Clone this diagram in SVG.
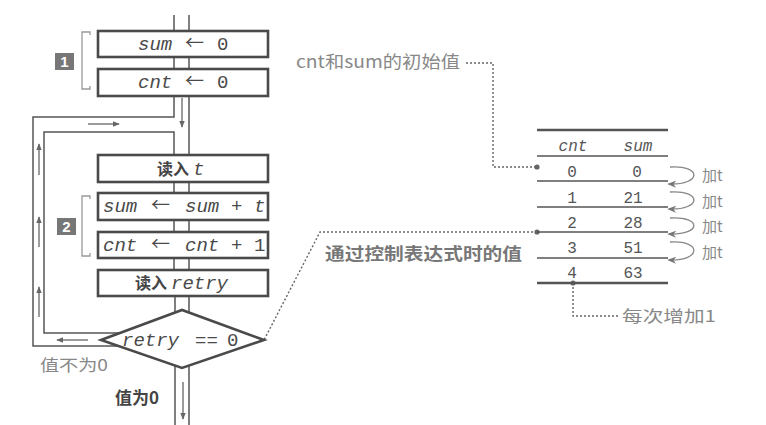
<svg xmlns="http://www.w3.org/2000/svg" width="766" height="425" viewBox="0 0 766 425">
<defs>
<marker id="ah" viewBox="0 0 10 10" refX="9" refY="5" markerWidth="7" markerHeight="7" orient="auto" markerUnits="userSpaceOnUse"><path d="M0,1 L10,5 L0,9 z" fill="#666"/></marker>
<marker id="ah2" viewBox="0 0 10 10" refX="8" refY="5" markerWidth="9" markerHeight="9" orient="auto" markerUnits="userSpaceOnUse"><path d="M0,1 L10,5 L0,9 L3,5 z" fill="#777"/></marker>
</defs>
<style>
.box{fill:#fff;stroke:#4a4a4a;stroke-width:2.6}
.flow{fill:none;stroke:#555;stroke-width:1.5}
.arr{fill:none;stroke:#666;stroke-width:1.3;marker-end:url(#ah)}
.dot{fill:none;stroke:#666;stroke-width:1.4;stroke-dasharray:2 2}
.mono{font-family:"Liberation Mono",monospace;font-size:19px;fill:#4a4a4a}
.la{font-family:"Noto Sans CJK SC",sans-serif;font-size:19px;fill:#4a4a4a}
.it{font-style:italic}
.cjkb{font-family:"Noto Sans CJK SC",sans-serif;font-weight:bold;fill:#444}
.gray{font-family:"Noto Sans CJK SC",sans-serif;fill:#888}
.brk{fill:none;stroke:#999;stroke-width:1.3}
.tl{stroke:#555;stroke-width:1.5}
.tlb{stroke:#555;stroke-width:2.5}
.tbl{font-family:"Liberation Mono",monospace;font-size:16px;fill:#555}
.curve{fill:none;stroke:#888;stroke-width:1.3;marker-end:url(#ah2)}
</style>
<g id="connectors">
<path class="flow" d="M174,15 V30 M189,15 V30 M174,57 V69 M189,57 V69"/>
<path class="flow" d="M189,96 V155 M174,96 V117 H33 V346 H120"/>
<path class="flow" d="M174,155 V132 H44 V333 H120"/>
<path class="flow" d="M174,182 V193 M189,182 V193 M174,220 V232 M189,220 V232 M174,258 V270 M189,258 V270 M175,296 V312 M189,296 V312"/>
<path class="flow" d="M175,366 V425 M189,366 V425"/>
<line class="arr" x1="182" y1="98" x2="182" y2="127"/>
<line class="arr" x1="88" y1="124" x2="119" y2="124"/>
<line class="arr" x1="39" y1="175" x2="39" y2="144"/>
<line class="arr" x1="39" y1="247" x2="39" y2="217"/>
<line class="arr" x1="39" y1="317" x2="39" y2="287"/>
<line class="arr" x1="88" y1="340" x2="57" y2="340"/>
<line class="arr" x1="183" y1="382" x2="183" y2="419"/>
<path class="dot" d="M466,63 H493 V167 H537"/>
<path class="dot" d="M537,232 H320 L264,340"/>
<path class="dot" d="M573,283 V316 H618"/>
<circle cx="537" cy="167" r="2.6" fill="#666"/>
<circle cx="537" cy="232" r="2.6" fill="#666"/>
<circle cx="573" cy="283" r="2.6" fill="#666"/>
<path class="curve" d="M670,167 C702,165 702,185 669,184"/>
<path class="curve" d="M670,192 C702,190 702,210 669,209"/>
<path class="curve" d="M670,218 C702,216 702,235 669,234"/>
<path class="curve" d="M670,242 C702,240 702,261 669,260"/>
</g>
<g id="bracket1">
<path class="brk" d="M90,35 V32 H82 V89 H90 V86"/>
<rect x="55" y="53" width="19" height="17" fill="#777"/>
<text x="64.5" y="67" font-family="Liberation Sans,sans-serif" font-weight="bold" font-size="15" fill="#fff" text-anchor="middle">1</text>
</g>
<g id="bracket2">
<path class="brk" d="M90,199 V196 H82 V256 H90 V253"/>
<rect x="57" y="218" width="19" height="17" fill="#777"/>
<text x="66.5" y="232" font-family="Liberation Sans,sans-serif" font-weight="bold" font-size="15" fill="#fff" text-anchor="middle">2</text>
</g>
<g id="n_sum0">
<rect class="box" x="98" y="31" width="170" height="26"/>
<text class="mono" y="50"><tspan class="it" x="138">sum</tspan><tspan class="la" x="185">←</tspan><tspan x="217">0</tspan></text>
</g>
<g id="n_cnt0">
<rect class="box" x="98" y="69" width="170" height="27"/>
<text class="mono" y="88"><tspan class="it" x="138">cnt</tspan><tspan class="la" x="185">←</tspan><tspan x="217">0</tspan></text>
</g>
<g id="n_readt">
<rect class="box" x="98" y="155" width="170" height="27"/>
<text y="175"><tspan class="cjkb" x="157" font-size="16">读入</tspan><tspan class="mono it" x="193">t</tspan></text>
</g>
<g id="n_sumt">
<rect class="box" x="98" y="193" width="170" height="27"/>
<text class="mono" y="212"><tspan class="it" x="103">sum</tspan><tspan class="la" x="151">←</tspan><tspan class="it" x="185">sum</tspan><tspan x="231">+</tspan><tspan class="it" x="254">t</tspan></text>
</g>
<g id="n_cnt1">
<rect class="box" x="98" y="232" width="170" height="26"/>
<text class="mono" y="251"><tspan class="it" x="103">cnt</tspan><tspan class="la" x="151">←</tspan><tspan class="it" x="185">cnt</tspan><tspan x="231">+</tspan><tspan x="254">1</tspan></text>
</g>
<g id="n_readretry">
<rect class="box" x="98" y="270" width="170" height="26"/>
<text y="289"><tspan class="cjkb" x="135" font-size="16">读入</tspan><tspan class="mono it" x="171">retry</tspan></text>
</g>
<g id="n_decision">
<polygon class="box" points="101,340 182,310 264,340 182,368"/>
<text class="mono" y="346"><tspan class="it" x="122">retry</tspan><tspan x="195">==</tspan><tspan x="227">0</tspan></text>
</g>
<text class="gray" x="40" y="371" font-size="16" textLength="68" lengthAdjust="spacingAndGlyphs">值不为0</text>
<text class="cjkb" x="115" y="404" font-size="17" fill="#555">值为0</text>
<text class="gray" x="296" y="68" font-size="17" textLength="164" lengthAdjust="spacingAndGlyphs">cnt和sum的初始值</text>
<text class="cjkb" x="325" y="260" font-size="17" style="fill:#777" textLength="197" lengthAdjust="spacingAndGlyphs">通过控制表达式时的值</text>
<text class="gray" x="622" y="322" font-size="16" textLength="94" lengthAdjust="spacingAndGlyphs">每次增加1</text>
<g id="table">
<line class="tlb" x1="537" y1="130" x2="668" y2="130"/>
<line class="tl" x1="537" y1="156" x2="668" y2="156"/>
<line class="tl" x1="537" y1="181" x2="668" y2="181"/>
<line class="tl" x1="537" y1="207" x2="668" y2="207"/>
<line class="tl" x1="537" y1="232" x2="668" y2="232"/>
<line class="tl" x1="537" y1="258" x2="668" y2="258"/>
<line class="tlb" x1="537" y1="283" x2="668" y2="283"/>
<text class="tbl it" x="573" y="151" text-anchor="middle" font-size="17">cnt</text>
<text class="tbl it" x="638" y="151" text-anchor="middle" font-size="17">sum</text>
<text class="tbl" x="572" y="177" text-anchor="middle">0</text>
<text class="tbl" x="637" y="177" text-anchor="middle">0</text>
<text class="tbl" x="572" y="203" text-anchor="middle">1</text>
<text class="tbl" x="633" y="203" text-anchor="middle">21</text>
<text class="tbl" x="572" y="228" text-anchor="middle">2</text>
<text class="tbl" x="633" y="228" text-anchor="middle">28</text>
<text class="tbl" x="572" y="253" text-anchor="middle">3</text>
<text class="tbl" x="633" y="253" text-anchor="middle">51</text>
<text class="tbl" x="572" y="278" text-anchor="middle">4</text>
<text class="tbl" x="633" y="278" text-anchor="middle">63</text>
</g>
<g id="labels_add">
<text class="gray" x="702" y="181" font-size="15">加t</text>
<text class="gray" x="702" y="207" font-size="15">加t</text>
<text class="gray" x="702" y="232" font-size="15">加t</text>
<text class="gray" x="702" y="258" font-size="15">加t</text>
</g>
</svg>
